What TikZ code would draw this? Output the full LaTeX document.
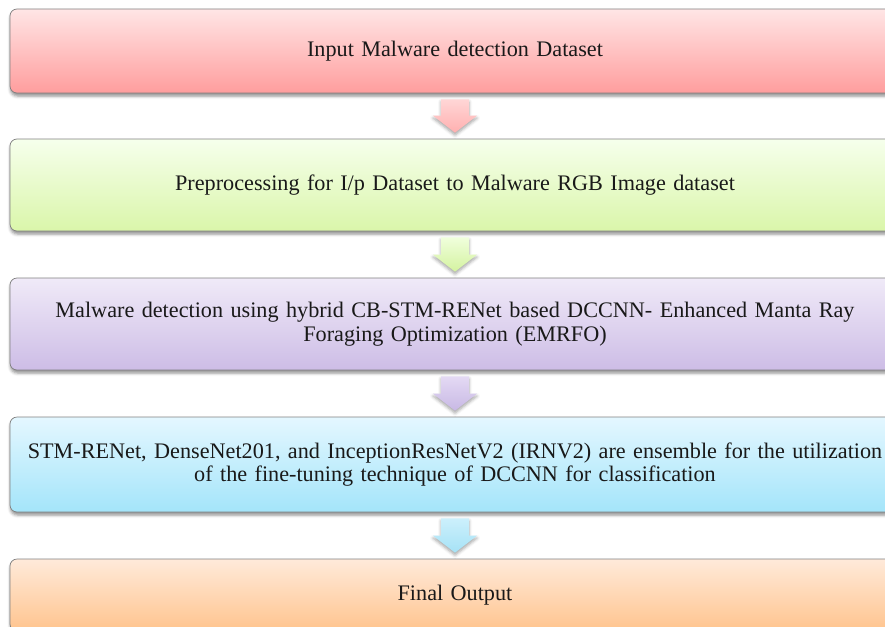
\documentclass[tikz,border=0pt]{standalone}
\usepackage{fontspec}
\setmainfont{Liberation Serif}
\usetikzlibrary{calc,shadows.blur}

\tikzset{
  stagebox/.style={
    draw=black!50, line width=0.7pt, rounded corners=7pt,
    minimum width=890pt, text width=870pt, align=center,
    font=\fontsize{22.2}{23.5}\selectfont, text=black!90,
    blur shadow={shadow xshift=0.5pt, shadow yshift=-3pt,
                 shadow blur radius=3pt, shadow opacity=45}
  },
  blockarrow/.style={
    blur shadow={shadow xshift=0pt, shadow yshift=-2.5pt,
                 shadow blur radius=3pt, shadow opacity=35}
  }
}

% broad down-arrow between two stages
\newcommand\stagearrow[4]{%
  \path[blockarrow, top color=#3, bottom color=#4]
    ($(#1.south)+(-14,6)$) -- ($(#1.south)+(14,6)$)
    -- ($(#2.north)+(14,-23)$) -- ($(#2.north)+(22,-23)$)
    -- ($(#2.north)+(0,-6)$)
    -- ($(#2.north)+(-22,-23)$) -- ($(#2.north)+(-14,-23)$) -- cycle;
}

\begin{document}
\begin{tikzpicture}[x=1pt, y=-1pt]
  \useasboundingbox (0,0) rectangle (885,626);
  \clip (0,0) rectangle (885,626);

  \node[stagebox, minimum height=84pt, top color=red!10, bottom color=red!35!white!95!red]
    (b1) at (455,51) {Input Malware detection Dataset};
  \node[stagebox, minimum height=92pt, top color={rgb,255:red,246;green,255;blue,236}, bottom color={rgb,255:red,218;green,246;blue,170}]
    (b2) at (455,185) {Preprocessing for I/p Dataset to Malware RGB Image dataset};
  \node[stagebox, minimum height=92pt, top color={rgb,255:red,240;green,234;blue,248}, bottom color={rgb,255:red,205;green,189;blue,230}]
    (b3) at (455,324) {Malware detection using hybrid CB-STM-RENet based DCCNN- Enhanced Manta Ray\\ Foraging Optimization (EMRFO)};
  \node[stagebox, minimum height=95pt, top color={rgb,255:red,228;green,247;blue,255}, bottom color={rgb,255:red,164;green,229;blue,250}]
    (b4) at (455,464.5) {STM-RENet, DenseNet201, and InceptionResNetV2 (IRNV2) are ensemble for the utilization\\ of the fine-tuning technique of DCCNN for classification};
  \node[stagebox, minimum height=72pt, top color={rgb,255:red,255;green,234;blue,218}, bottom color={rgb,255:red,255;green,196;blue,142}]
    (b5) at (455,595) {Final Output};

  \stagearrow{b1}{b2}{{rgb,255:red,255;green,214;blue,214}}{{rgb,255:red,255;green,176;blue,176}}
  \stagearrow{b2}{b3}{{rgb,255:red,240;green,255;blue,220}}{{rgb,255:red,212;green,242;blue,160}}
  \stagearrow{b3}{b4}{{rgb,255:red,228;green,218;blue,244}}{{rgb,255:red,200;green,184;blue,228}}
  \stagearrow{b4}{b5}{{rgb,255:red,204;green,240;blue,252}}{{rgb,255:red,166;green,226;blue,246}}
\end{tikzpicture}
\end{document}
